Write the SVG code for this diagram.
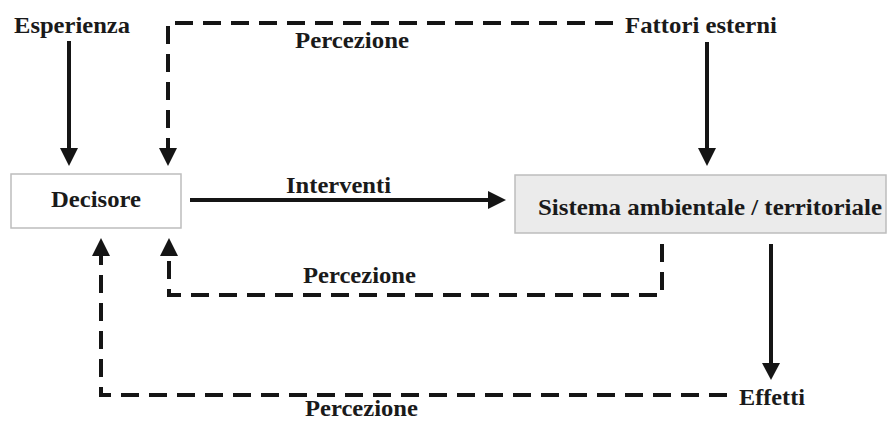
<svg xmlns="http://www.w3.org/2000/svg" width="887" height="421" viewBox="0 0 887 421">
<style>
text{font-family:"Liberation Serif","Times New Roman",serif;font-weight:bold;font-size:23.5px;fill:#1a1a1a}
.s{stroke:#151515;stroke-width:4;fill:none}
.d{stroke:#151515;stroke-width:4;fill:none;stroke-dasharray:18 10}
.h{fill:#151515}
</style>
<rect width="887" height="421" fill="#fff"/>
<g id="connectors">
<line class="s" x1="69" y1="41" x2="69" y2="150"/>
<polygon class="h" points="60,148 78,148 69,166"/>
<path class="d" d="M613 23 H168 V150"/>
<polygon class="h" points="159,148 177,148 168,166"/>
<line class="s" x1="707" y1="42" x2="707" y2="150"/>
<polygon class="h" points="698,148 716,148 707,166"/>
<line class="s" x1="190" y1="200" x2="490" y2="200"/>
<polygon class="h" points="488,191 488,209 506,200"/>
<path class="d" d="M662 244 V295 H169 V256"/>
<polygon class="h" points="160,256 178,256 169,238"/>
<line class="s" x1="771" y1="244" x2="771" y2="365"/>
<polygon class="h" points="762,363 780,363 771,380"/>
<path class="d" d="M727 395 H101 V256"/>
<polygon class="h" points="92,256 110,256 101,238"/>
</g>
<g id="decisore">
<rect x="11" y="174" width="170" height="54" fill="#fff" stroke="#bdbdbd" stroke-width="1.5"/>
<text x="51" y="207" textLength="90" lengthAdjust="spacingAndGlyphs">Decisore</text>
</g>
<g id="sistema">
<rect x="515" y="175" width="371" height="58" fill="#ebebeb" stroke="#bdbdbd" stroke-width="1.5"/>
<text x="538" y="215" textLength="344" lengthAdjust="spacingAndGlyphs">Sistema ambientale / territoriale</text>
</g>
<g id="esperienza"><text x="14" y="33" textLength="116" lengthAdjust="spacingAndGlyphs">Esperienza</text></g>
<g id="fattori"><text x="625" y="33" textLength="152" lengthAdjust="spacingAndGlyphs">Fattori esterni</text></g>
<g id="effetti"><text x="739" y="405" textLength="66" lengthAdjust="spacingAndGlyphs">Effetti</text></g>
<g id="labels">
<text x="295" y="48" textLength="114" lengthAdjust="spacingAndGlyphs">Percezione</text>
<text x="286" y="193" textLength="105" lengthAdjust="spacingAndGlyphs">Interventi</text>
<text x="303" y="283" textLength="113" lengthAdjust="spacingAndGlyphs">Percezione</text>
<text x="305" y="416" textLength="113" lengthAdjust="spacingAndGlyphs">Percezione</text>
</g>
</svg>
